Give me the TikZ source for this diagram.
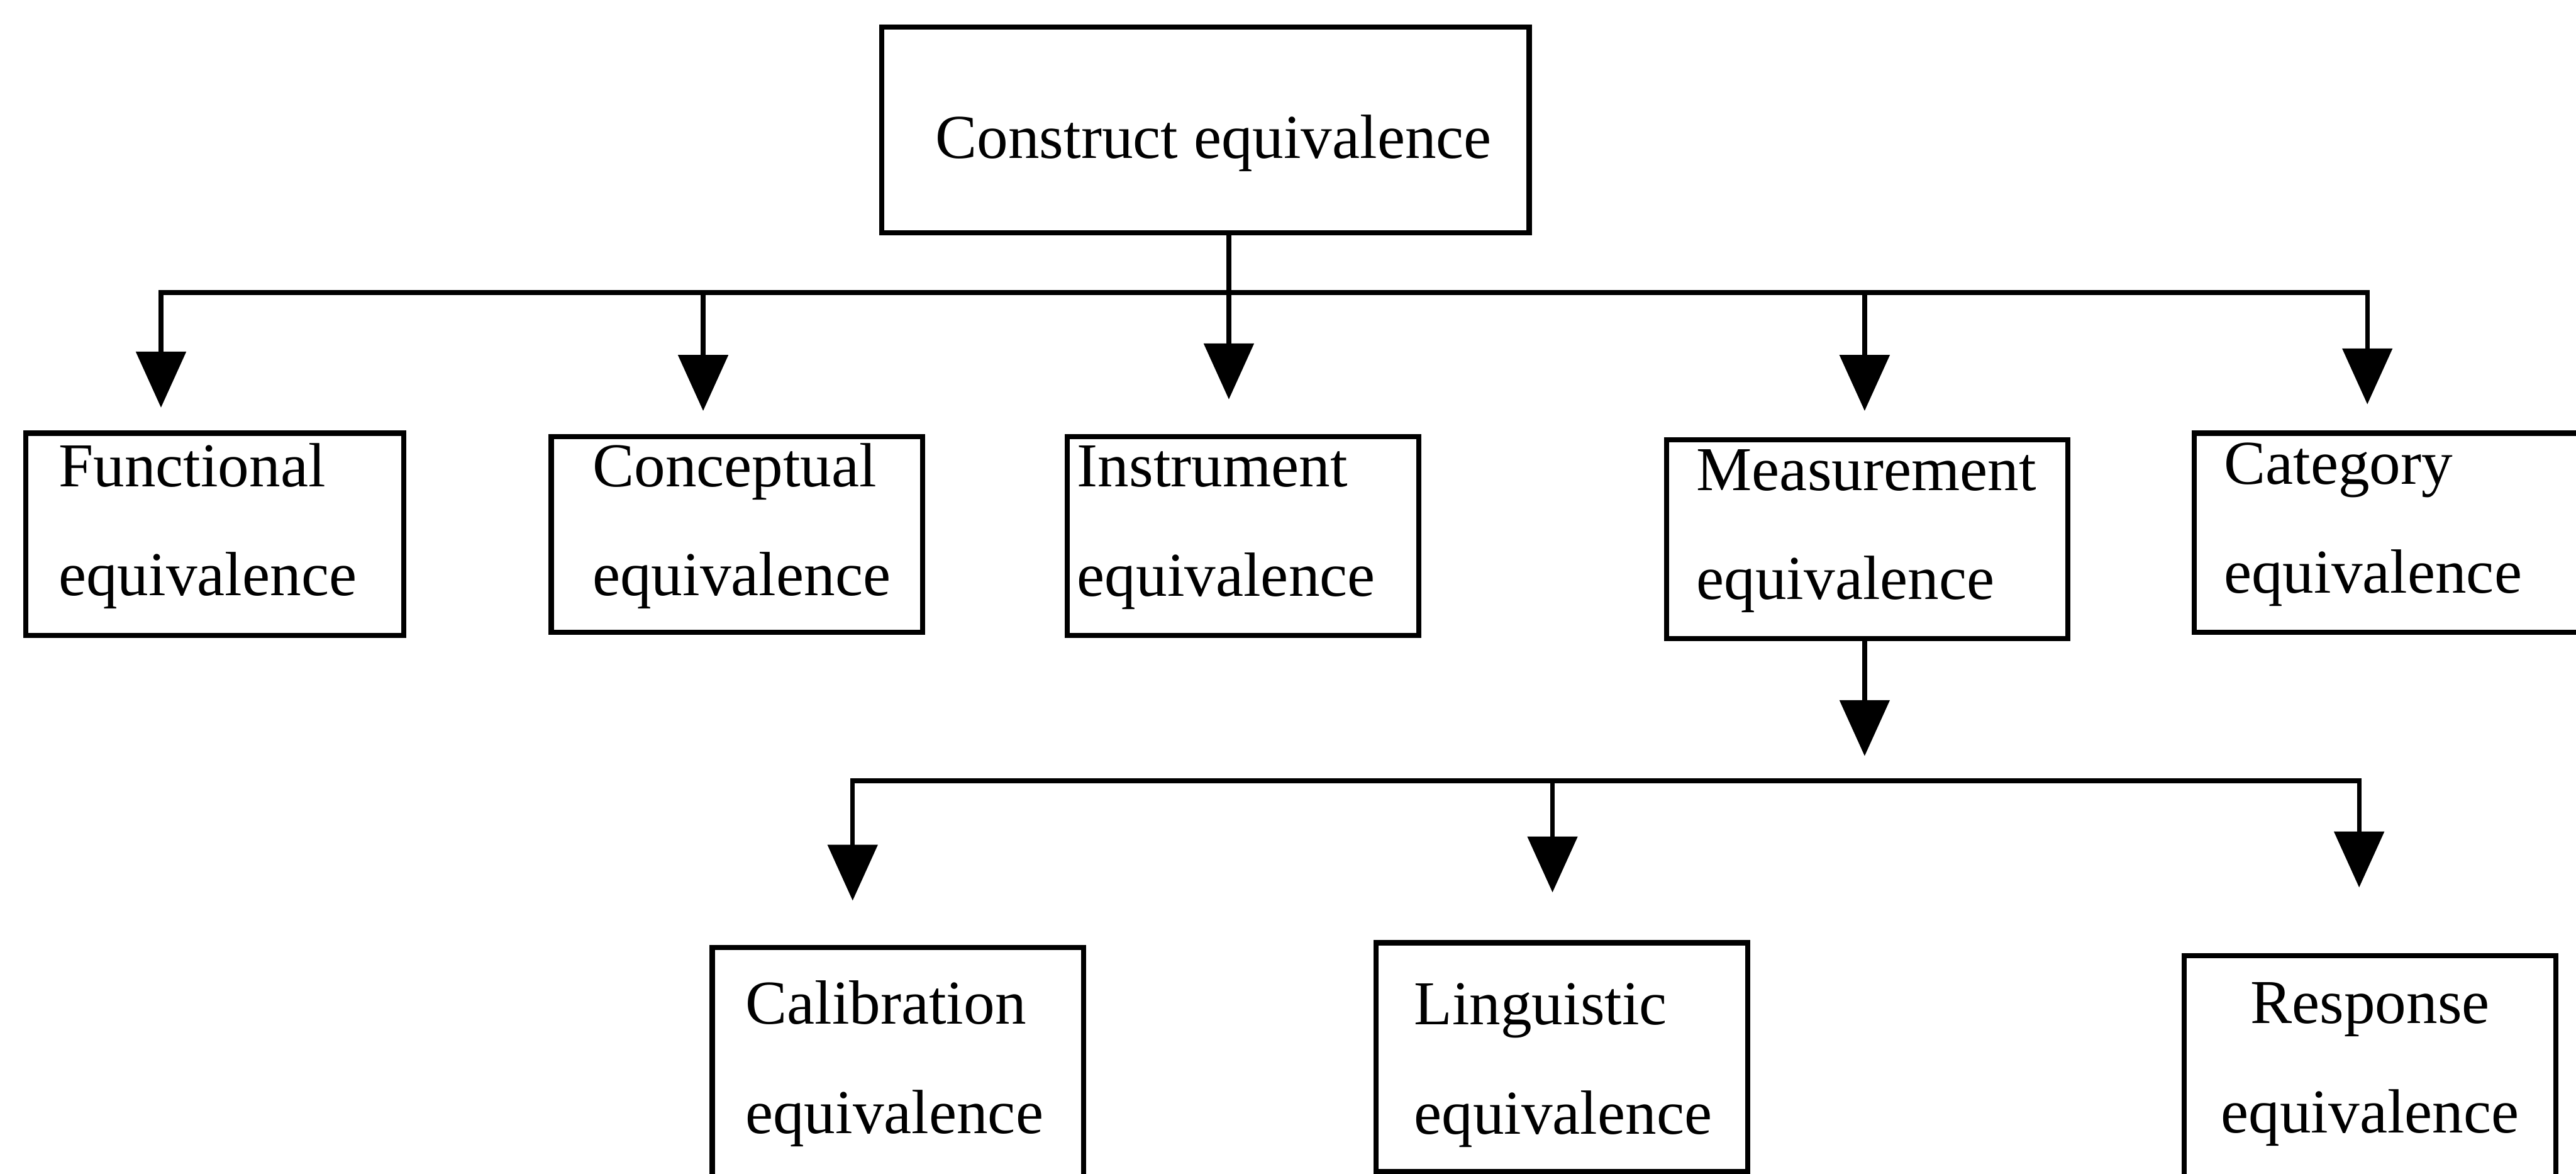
\documentclass[tikz,border=0pt]{standalone}
\usepackage{fontspec}
\setmainfont{Liberation Serif}
\usetikzlibrary{arrows.meta}
\begin{document}
\begin{tikzpicture}[x=0.01cm,y=-0.01cm,
  box/.style={draw, line width=0.9pt, anchor=north west, inner sep=0pt},
  lbl/.style={anchor=west, inner sep=0pt, align=left,
    font=\fontsize{10.8}{18.9}\selectfont},
  conn/.style={line width=0.8pt},
  arr/.style={conn, -{Triangle[width=0.30cm,length=0.34cm]}}]
\useasboundingbox (0,0) rectangle (1568,714);
\fill[white] (0,0) rectangle (1568,714);
\clip (0,0) rectangle (1568,714);

% root
\node[box, minimum width=3.94cm, minimum height=1.25cm] (top) at (535,15) {};
\node[lbl, anchor=center] (topT) at ([xshift=0.05cm, yshift=-0.08cm]top.center) {Construct equivalence};

% first level
\node[box, minimum width=2.30cm, minimum height=1.23cm] (fun) at (14,262) {};
\node[lbl] (funT) at ([xshift=0.21cm, yshift=0.05cm]fun.west) {Functional\\equivalence};
\node[box, minimum width=2.26cm, minimum height=1.19cm] (con) at (334,264) {};
\node[lbl] (conT) at ([xshift=0.26cm, yshift=0.05cm]con.west) {Conceptual\\equivalence};
\node[box, minimum width=2.14cm, minimum height=1.21cm] (ins) at (648,264) {};
\node[lbl] (insT) at ([xshift=0.07cm, yshift=0.05cm]ins.west) {Instrument\\equivalence};
\node[box, minimum width=2.44cm, minimum height=1.21cm] (mea) at (1013,266) {};
\node[lbl] (meaT) at ([xshift=0.19cm, yshift=0.05cm]mea.west) {Measurement\\equivalence};
\node[box, minimum width=2.60cm, minimum height=1.21cm] (cat) at (1334,262) {};
\node[lbl] (catT) at ([xshift=0.19cm, yshift=0.05cm]cat.west) {Category\\equivalence};

% second level
\node[box, minimum width=2.26cm, minimum height=1.41cm] (cal) at (432,575) {};
\node[lbl] (calT) at ([xshift=0.21cm]cal.west) {Calibration\\equivalence};
\node[box, minimum width=2.26cm, minimum height=1.39cm] (lin) at (836,572) {};
\node[lbl] (linT) at ([xshift=0.24cm, yshift=-0.05cm]lin.west) {Linguistic\\equivalence};
\node[box, minimum width=2.26cm, minimum height=1.36cm] (res) at (1328,580) {};
\node[lbl, anchor=center, align=center] (resT) at ([yshift=0.02cm]res.center) {Response\\equivalence};

% upper distribution line
\coordinate (bF) at (98,178);
\coordinate (bC) at (428,178);
\coordinate (bI) at (748,178);
\coordinate (bM) at (1135,178);
\coordinate (bK) at (1441,178);

\draw[arr, shorten >=0.14cm] (bK) -- (bF) -- (bF |- fun.north);
\draw[arr, shorten >=0.16cm] (bF) -- (bK) -- (bK |- cat.north);
\draw[arr, shorten >=0.14cm] (bC) -- (bC |- con.north);
\draw[arr, shorten >=0.21cm] (top.south -| bI) -- (bI |- ins.north);
\draw[arr, shorten >=0.16cm] (bM) -- (bM |- mea.north);

% lower distribution line
\coordinate (mTip) at (1135,460);
\draw[arr] (mea.south -| mTip) -- (mTip);

\coordinate (c1) at (519,475);
\coordinate (c2) at (945,475);
\coordinate (c3) at (1436,475);

\draw[arr, shorten >=0.27cm] (c3) -- (c1) -- (c1 |- cal.north);
\draw[arr, shorten >=0.40cm] (c1) -- (c3) -- (c3 |- res.north);
\draw[arr, shorten >=0.29cm] (c2) -- (c2 |- lin.north);
\end{tikzpicture}
\end{document}
